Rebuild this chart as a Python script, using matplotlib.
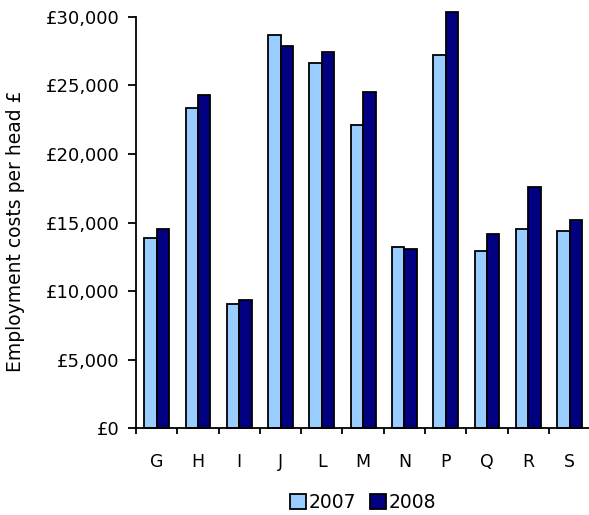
import numpy as np
import matplotlib.pyplot as plt
from matplotlib.ticker import FuncFormatter, FixedLocator

# Employment costs per head by sector
sectors = ["G", "H", "I", "J", "L", "M", "N", "P", "Q", "R", "S"]
costs_2007 = [13850, 23370, 9040, 28690, 26600, 22080, 13210, 27230, 12900, 14500, 14360]
costs_2008 = [14500, 24310, 9350, 27860, 27400, 24510, 13070, 30350, 14160, 17570, 15160]

plt.rcParams['font.family'] = ['DejaVu Sans']
plt.rcParams['font.size'] = 13

fig = plt.figure(figsize=(5.89, 5.15), dpi=100)
ax = fig.add_axes([0.231, 0.168, 0.771, 0.7995])

x = np.arange(len(sectors))
w = 0.3
ax.bar(x - w / 2, costs_2007, w, color="#99ccff", edgecolor="black", linewidth=1.3,
       label="2007", clip_on=False)
ax.bar(x + w / 2, costs_2008, w, color="#000080", edgecolor="black", linewidth=1.3,
       label="2008", clip_on=False)

ax.set_xlim(-0.5, len(sectors) - 0.5)
ax.set_ylim(0, 30000)
ax.set_yticks(range(0, 30001, 5000))
ax.yaxis.set_major_formatter(FuncFormatter(lambda v, p: "£{:,.0f}".format(v)))

ax.set_xticks(x)
ax.set_xticklabels(sectors)
ax.xaxis.set_minor_locator(FixedLocator(np.arange(-0.5, len(sectors), 1.0)))
ax.tick_params(axis="x", which="major", length=0, pad=18, labelsize=12.5)
ax.tick_params(axis="x", which="minor", length=4.5, width=1.3, direction="out")
ax.tick_params(axis="y", length=5.5, width=1.3, direction="out", pad=6.5)

for s in ["top", "right"]:
    ax.spines[s].set_visible(False)
for s in ["left", "bottom"]:
    ax.spines[s].set_linewidth(1.3)

ax.set_ylabel("Employment costs per head £", fontsize=13.5)
ax.yaxis.set_label_coords(-0.245, 0.478)

ax.legend(loc="center", bbox_to_anchor=(0.5, -0.18), ncol=2, frameon=False,
          handlelength=0.85, handleheight=0.85, handletextpad=0.15, columnspacing=0.7,
          fontsize=13.5, borderaxespad=0)

fig.savefig("out.png", dpi=100)
